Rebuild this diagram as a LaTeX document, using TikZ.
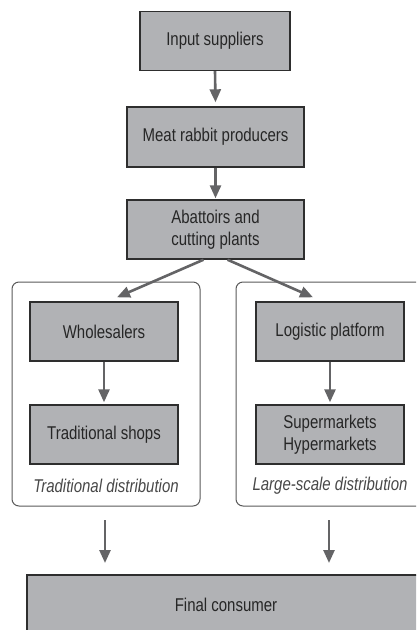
\documentclass[tikz,border=0pt]{standalone}
\usepackage{fontspec}
\setmainfont{Liberation Sans}[FakeStretch=0.81]
\usetikzlibrary{arrows.meta}
\definecolor{boxfill}{HTML}{B1B2B5}
\definecolor{boxline}{HTML}{2E2E2E}
\definecolor{arrowcol}{HTML}{646466}
\definecolor{txtcol}{HTML}{262626}
\definecolor{grpline}{HTML}{5A5A5A}
\definecolor{lblcol}{HTML}{484848}
\tikzset{
  stagebox/.style={draw=boxline, line width=1.4pt, fill=boxfill, text=txtcol,
    minimum height=59pt, inner sep=0pt, align=center,
    font=\fontsize{18.5}{21.7}\selectfont},
  flow/.style={draw=arrowcol, line width=2.6pt,
    -{Triangle[width=11pt,length=13pt]}},
  groupbox/.style={draw=grpline, line width=1pt, rounded corners=7pt},
  grouplabel/.style={text=lblcol, font=\fontsize{18.5}{21.7}\selectfont\itshape, inner sep=0pt}
}
\begin{document}
\begin{tikzpicture}[x=1pt,y=-1pt]
\useasboundingbox (0,0) rectangle (416,630);
\clip (0,0) rectangle (416,630);
\fill[white] (0,0) rectangle (416,630);
% nodes
\node[stagebox, minimum width=150pt] (in) at (215,41) {Input suppliers};
\node[stagebox, minimum width=177pt, minimum height=60pt] (prod) at (215.5,137) {Meat rabbit producers};
\node[stagebox, minimum width=177pt] (aba) at (215.5,229.5) {Abattoirs and\\cutting plants};
% groups
\draw[groupbox] (12,282) rectangle (200,506);
\draw[groupbox] (236,282) rectangle (424,506);
\node[stagebox, minimum width=148pt] (whole) at (104,331.5) {Wholesalers};
\node[stagebox, minimum width=148pt] (trad) at (104,434.5) {Traditional shops};
\node[stagebox, minimum width=148pt] (log) at (330,331.5) {Logistic platform};
\node[stagebox, minimum width=148pt] (sup) at (330,434.5) {Supermarkets\\Hypermarkets};
\node[grouplabel] (tdl) at (106,486) {Traditional distribution};
\node[grouplabel] (lsl) at (330,486) {Large-scale distribution};
\node[stagebox, minimum width=398pt, minimum height=60pt] (final) at (226,605) {Final consumer};
% connectors
\draw[flow] (in.south) -- ([yshift=4pt]prod.north);
\draw[flow] (prod.south) -- ([yshift=1pt]aba.north);
\draw[flow] ([xshift=-12pt]aba.south) -- ([xshift=13pt,yshift=4pt]whole.north);
\draw[flow] ([xshift=12pt]aba.south) -- ([xshift=-17pt,yshift=4pt]log.north);
\draw[flow] (whole.south) -- ([yshift=2pt]trad.north);
\draw[flow] (log.south) -- ([yshift=2pt]sup.north);
\coordinate (tl) at (105,520);
\coordinate (tr) at (329,520);
\draw[flow] (tl) -- (tl |- {(0,563)});
\draw[flow] (tr) -- (tr |- {(0,563)});
\end{tikzpicture}
\end{document}
